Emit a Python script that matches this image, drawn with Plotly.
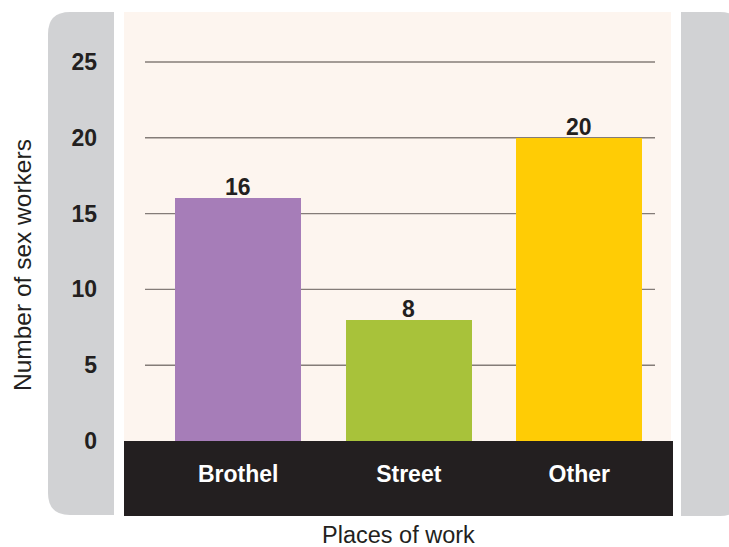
import plotly.graph_objects as go

categories = ["Brothel", "Street", "Other"]
values = [16, 8, 20]
bar_colors = ["#a67db8", "#a8c23a", "#ffcc05"]
y_ticks = [0, 5, 10, 15, 20, 25]
y_title = "Number of sex workers"
x_title = "Places of work"

W, H = 729, 547
L, R, T, B = 124, 58, 12, 106
pw, ph = W - L - R, H - T - B


def px(x):
    return (x - L) / pw


def py(y):
    return (H - B - y) / ph


fig = go.Figure()
fig.add_trace(go.Bar(
    x=categories, y=values,
    marker=dict(color=bar_colors, line=dict(width=0)),
    width=0.74,
    hoverinfo="skip",
))

shapes = []
# left gray rounded panel
x0, x1 = px(48), px(114)
yt, yb = py(12), py(515)
rx, ry = 22 / pw, 22 / ph
shapes.append(dict(
    type="path", xref="paper", yref="paper", layer="below",
    path=(f"M {x1},{yt} L {x0+rx},{yt} Q {x0},{yt} {x0},{yt-ry} "
          f"L {x0},{yb+ry} Q {x0},{yb} {x0+rx},{yb} L {x1},{yb} Z"),
    fillcolor="#d1d2d4", line=dict(width=0)))
# right gray rounded panel
x0, x1 = px(681), px(742)
yt, yb = py(12), py(516)
shapes.append(dict(
    type="path", xref="paper", yref="paper", layer="below",
    path=(f"M {x0},{yt} L {x1-rx},{yt} Q {x1},{yt} {x1},{yt-ry} "
          f"L {x1},{yb+ry} Q {x1},{yb} {x1-rx},{yb} L {x0},{yb} Z"),
    fillcolor="#d1d2d4", line=dict(width=0)))
# black band
shapes.append(dict(type="rect", xref="paper", yref="paper", layer="below",
                   x0=0, x1=px(673), y0=py(516), y1=0,
                   fillcolor="#231f20", line=dict(width=0)))
# gridlines
for t in y_ticks[1:]:
    shapes.append(dict(type="line", xref="paper", yref="y", layer="below",
                       x0=px(145), x1=px(655), y0=t, y1=t,
                       line=dict(color="#847c78", width=1.4)))

annotations = [
    dict(text=y_title, xref="paper", yref="paper", x=px(22), y=py(265),
         textangle=-90, showarrow=False, xanchor="center", yanchor="middle",
         font=dict(family="Liberation Sans, Arial", size=24.5, color="#231f20")),
    dict(text=x_title, xref="paper", yref="paper", x=px(398), y=py(535),
         showarrow=False, xanchor="center", yanchor="middle",
         font=dict(family="Liberation Sans, Arial", size=23.5, color="#231f20")),
]
# value labels above bars
for c, v in zip(categories, values):
    annotations.append(dict(
        text=f"<b>{v}</b>", x=c, y=v, xref="x", yref="y",
        showarrow=False, xanchor="center", yanchor="bottom", yshift=-4,
        font=dict(family="Liberation Sans, Arial", size=23, color="#231f20")))

fig.update_layout(
    width=W, height=H,
    margin=dict(l=L, r=R, t=T, b=B, pad=0),
    paper_bgcolor="white",
    plot_bgcolor="#fdf5ef",
    showlegend=False,
    shapes=shapes,
    annotations=annotations,
    bargap=0,
)
fig.update_xaxes(
    range=[-0.67, 2.538], showgrid=False, zeroline=False, showline=False,
    ticks="", ticklabelstandoff=17,
    tickfont=dict(family="Liberation Sans, Arial", size=23, color="white", weight="bold"),
    fixedrange=True,
)
fig.update_yaxes(
    range=[0, 28.3], tickvals=y_ticks, showgrid=False, zeroline=False, showline=False,
    ticks="", ticklabelstandoff=26,
    tickfont=dict(family="Liberation Sans, Arial", size=23, color="#231f20", weight="bold"),
    fixedrange=True,
)

fig.write_html(
    "out.html",
    config={"displayModeBar": False, "staticPlot": True},
    post_script="document.body.style.margin='0';document.body.style.overflow='hidden';",
)
